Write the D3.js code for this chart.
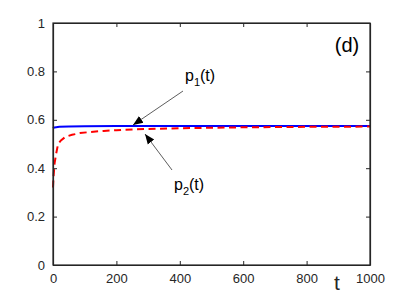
<!DOCTYPE html>
<html><head><meta charset="utf-8">
<script src="https://cdn.jsdelivr.net/npm/d3@7"></script>
<style>body{margin:0;background:#fff}svg{display:block}text{font-family:"Liberation Sans",Arial,Helvetica,sans-serif}</style>
</head><body><svg id="c" width="409" height="298"></svg>
<script>
const tP1 = [0, 2, 5, 10, 20, 50, 100, 200, 400, 600, 800, 1000];
const p1  = [0.565, 0.567, 0.568, 0.569, 0.571, 0.572, 0.573, 0.574, 0.574, 0.574, 0.574, 0.574];
const tP2 = [0, 2, 5, 10, 16, 25, 40, 60, 85, 120, 160, 200, 250, 300, 400, 500, 600, 800, 1000];
const p2  = [0.32, 0.37, 0.42, 0.46, 0.5, 0.515, 0.53, 0.538, 0.545, 0.55, 0.554, 0.557, 0.56, 0.562, 0.565, 0.567, 0.569, 0.571, 0.572];
const xTicks = [0, 200, 400, 600, 800, 1000];
const yTicks = [0, 0.2, 0.4, 0.6, 0.8, 1];

const svg = d3.select("#c");
const L = 53, R = 370, T = 23, B = 265;
const x = d3.scaleLinear().domain([0, 1000]).range([L, R]);
const y = d3.scaleLinear().domain([0, 1]).range([B, T]);
const axisCol = "#262626";

const line = d3.line().x(d => x(d[0])).y(d => y(d[1]));
svg.append("path").datum(tP1.map((t, i) => [t, p1[i]]))
  .attr("d", line).attr("fill", "none").attr("stroke", "#0000ff").attr("stroke-width", 2);
svg.append("path").datum(tP2.map((t, i) => [t, p2[i]]))
  .attr("d", line).attr("fill", "none").attr("stroke", "#ff0000").attr("stroke-width", 2)
  .attr("stroke-dasharray", "7,4.5");

// axes
svg.append("g").attr("transform", `translate(0,${B})`)
  .call(d3.axisBottom(x).tickValues(xTicks).tickSizeInner(-4).tickSizeOuter(0).tickPadding(9).tickFormat(d3.format("d")));
svg.append("g").attr("transform", `translate(${L},0)`)
  .call(d3.axisLeft(y).tickValues(yTicks).tickSizeInner(-4).tickSizeOuter(0).tickPadding(8).tickFormat(d => d === 0 || d === 1 ? d3.format("d")(d) : d3.format(".1f")(d)));
svg.append("g").attr("transform", `translate(0,${T})`)
  .call(d3.axisTop(x).tickValues(xTicks).tickSizeInner(-4).tickSizeOuter(0).tickFormat(""));
svg.append("g").attr("transform", `translate(${R},0)`)
  .call(d3.axisRight(y).tickValues(yTicks).tickSizeInner(-4).tickSizeOuter(0).tickFormat(""));
svg.selectAll(".domain").attr("stroke", axisCol).attr("stroke-width", 1.2);
svg.selectAll(".tick line").attr("stroke", axisCol);
svg.selectAll(".tick text").attr("fill", axisCol).style("font-size", "13px")
  .style("font-family", '"Liberation Sans",Arial,sans-serif');

// box
svg.append("rect").attr("x", L).attr("y", T).attr("width", R - L).attr("height", B - T)
  .attr("fill", "none").attr("stroke", axisCol).attr("stroke-width", 1.2);

// t label
svg.append("text").attr("x", 337).attr("y", 290).attr("text-anchor", "middle")
  .style("font-size", "21px").attr("fill", axisCol).text("t");

// (d)
svg.append("text").attr("x", 347).attr("y", 52).attr("text-anchor", "middle")
  .style("font-size", "20px").attr("fill", "#000").text("(d)");

// annotations
const defs = svg.append("defs");
defs.append("marker").attr("id", "ah").attr("viewBox", "0 0 10 10").attr("refX", 10).attr("refY", 5)
  .attr("markerWidth", 10).attr("markerHeight", 10).attr("markerUnits", "userSpaceOnUse").attr("orient", "auto")
  .append("path").attr("d", "M0,1 L10,5 L0,9 Z").attr("fill", "#000");

svg.append("line").attr("x1", 183).attr("y1", 91).attr("x2", 133).attr("y2", 125)
  .attr("stroke", "#333").attr("stroke-width", 0.8).attr("marker-end", "url(#ah)");
svg.append("line").attr("x1", 172).attr("y1", 170).attr("x2", 145).attr("y2", 134)
  .attr("stroke", "#333").attr("stroke-width", 0.8).attr("marker-end", "url(#ah)");

function label(xp, yp, sub) {
  const t = svg.append("text").attr("x", xp).attr("y", yp).style("font-size", "16px").attr("fill", "#000");
  t.append("tspan").text("p");
  t.append("tspan").attr("dy", 5).style("font-size", "11px").text(sub);
  t.append("tspan").attr("dy", -5).text("(t)");
}
label(185, 81, "1");
label(174, 190, "2");
</script></body></html>
